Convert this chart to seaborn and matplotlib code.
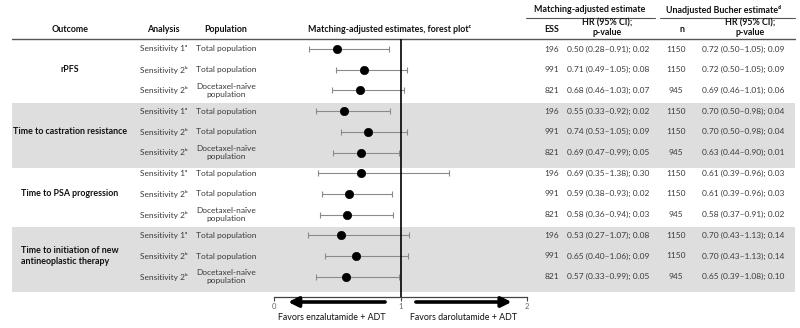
import numpy as np
import pandas as pd
import seaborn as sns
import matplotlib.pyplot as plt
from matplotlib.patches import Rectangle

sns.set_theme(style="white")
plt.rcParams['font.family'] = ['Lato', 'DejaVu Sans']

# Data
outcomes = ["rPFS", "Time to castration resistance", "Time to PSA progression",
            "Time to initiation of new\nantineoplastic therapy"]
analysis = ["Sensitivity 1ᵃ", "Sensitivity 2ᵇ", "Sensitivity 2ᵇ"] * 4
population = ["Total population", "Total population", "Docetaxel-naïve\npopulation"] * 4
ess = [196, 991, 821, 196, 991, 821, 196, 991, 821, 196, 991, 821]
hr = [0.50, 0.71, 0.68, 0.55, 0.74, 0.69, 0.69, 0.59, 0.58, 0.53, 0.65, 0.57]
lo = [0.28, 0.49, 0.46, 0.33, 0.53, 0.47, 0.35, 0.38, 0.36, 0.27, 0.40, 0.33]
hi = [0.91, 1.05, 1.03, 0.92, 1.05, 0.99, 1.38, 0.93, 0.94, 1.07, 1.06, 0.99]
pval = ["0.02", "0.08", "0.07", "0.02", "0.09", "0.05", "0.30", "0.02", "0.03", "0.08", "0.09", "0.05"]
n = [1150, 1150, 945, 1150, 1150, 945, 1150, 1150, 945, 1150, 1150, 945]
uhr = [0.72, 0.72, 0.69, 0.70, 0.70, 0.63, 0.61, 0.61, 0.58, 0.70, 0.70, 0.65]
ulo = [0.50, 0.50, 0.46, 0.50, 0.50, 0.44, 0.39, 0.39, 0.37, 0.43, 0.43, 0.39]
uhi = [1.05, 1.05, 1.01, 0.98, 0.98, 0.90, 0.96, 0.96, 0.91, 1.13, 1.13, 1.08]
upval = ["0.09", "0.09", "0.06", "0.04", "0.04", "0.01", "0.03", "0.03", "0.02", "0.14", "0.14", "0.10"]

df = pd.DataFrame({"row": np.arange(len(hr)), "hr": hr, "lo": lo, "hi": hi})

ROW0, STEP = 49, 20.7   # pixel position of first row, row spacing
def py(i):
    return ROW0 + STEP * i

fig = plt.figure(figsize=(8, 3.28), dpi=100)
bg = fig.add_axes([0, 0, 1, 1])
bg.set_xlim(0, 800)
bg.set_ylim(328, 0)
bg.axis("off")

body = dict(fontsize=6.0, color="#3a3a3a", va="center")
head = dict(fontsize=6.4, color="#111111", fontweight="bold", va="center", ha="center")

# shaded bands for 2nd and 4th outcome
for g in (1, 3):
    top = py(3 * g) - 8
    bot = py(3 * g + 2) + 15
    bg.add_patch(Rectangle((12, top), 783, bot - top, color="#dedede", lw=0, zorder=0))

# header lines
bg.plot([12, 795], [39, 39], color="#555555", lw=1)
bg.plot([526, 655], [18, 18], color="#555555", lw=0.8)
bg.plot([660, 795], [18, 18], color="#555555", lw=0.8)

bg.text(590, 10, "Matching-adjusted estimate", **head)
bg.text(724, 10, "Unadjusted Bucher estimateᵈ", **head)
bg.text(70, 29, "Outcome", **head)
bg.text(163, 29, "Analysis", **head)
bg.text(226, 29, "Population", **head)
bg.text(390, 29, "Matching-adjusted estimates, forest plotᶜ", **head)
bg.text(552, 29, "ESS", **head)
bg.text(607, 28, "HR (95% CI);\np-value", linespacing=1.1, **head)
bg.text(682, 29, "n", **head)
bg.text(750, 28, "HR (95% CI);\np-value", linespacing=1.1, **head)

for g, name in enumerate(outcomes):
    bg.text(70, py(3 * g + 1), name, fontsize=6.4, fontweight="bold", color="#111111",
            ha="center", va="center", multialignment="left", linespacing=1.2)

for i in range(len(hr)):
    y = py(i)
    bg.text(164, y, analysis[i], ha="center", **body)
    bg.text(226, y, population[i], ha="center", linespacing=1.15, **body)
    bg.text(552, y, str(ess[i]), ha="center", **body)
    bg.text(608, y, f"{hr[i]:.2f} ({lo[i]:.2f}–{hi[i]:.2f}); {pval[i]}", ha="center", **body)
    bg.text(676, y, str(n[i]), ha="center", **body)
    bg.text(743, y, f"{uhr[i]:.2f} ({ulo[i]:.2f}–{uhi[i]:.2f}); {upval[i]}", ha="center", **body)

# forest plot
ax = fig.add_axes([274 / 800, (328 - 297) / 328, 253 / 800, (297 - 39) / 328])
ax.patch.set_alpha(0)
ax.errorbar(df.hr, df.row, xerr=[df.hr - df.lo, df.hi - df.hr], fmt="none",
            ecolor="#8a8a8a", elinewidth=0.8, capsize=2, capthick=0.8)
sns.scatterplot(data=df, x="hr", y="row", s=36, color="black", edgecolor="black",
                zorder=3, ax=ax, legend=False)
ax.axvline(1, color="black", lw=1.2)
ax.set_xlim(0, 2)
ax.set_ylim((297 - ROW0) / STEP, (39 - ROW0) / STEP)
ax.set_xticks([0, 1, 2])
ax.set_xticklabels(["0", "1", "2"], fontsize=5.5, color="#666666")
ax.tick_params(axis="x", length=3, width=0.8, color="#444444", pad=1, bottom=True)
ax.set_yticks([])
ax.set_xlabel("")
ax.set_ylabel("")
for s in ["top", "left", "right"]:
    ax.spines[s].set_visible(False)
ax.spines["bottom"].set_color("#444444")
ax.spines["bottom"].set_linewidth(0.9)

tr = ax.get_xaxis_transform()
yarr = -5 / 258
ax.annotate("", xy=(0.09, yarr), xytext=(0.9, yarr), xycoords=tr, textcoords=tr,
            arrowprops=dict(arrowstyle="-|>", lw=2.6, color="black", mutation_scale=15),
            annotation_clip=False)
ax.annotate("", xy=(1.9, yarr), xytext=(1.1, yarr), xycoords=tr, textcoords=tr,
            arrowprops=dict(arrowstyle="-|>", lw=2.6, color="black", mutation_scale=15),
            annotation_clip=False)

bg.text(332, 317, "Favors enzalutamide + ADT", fontsize=6.4, color="#111111", ha="center", va="center")
bg.text(463, 317, "Favors darolutamide + ADT", fontsize=6.4, color="#111111", ha="center", va="center")

fig.savefig("out.png", dpi=100)
